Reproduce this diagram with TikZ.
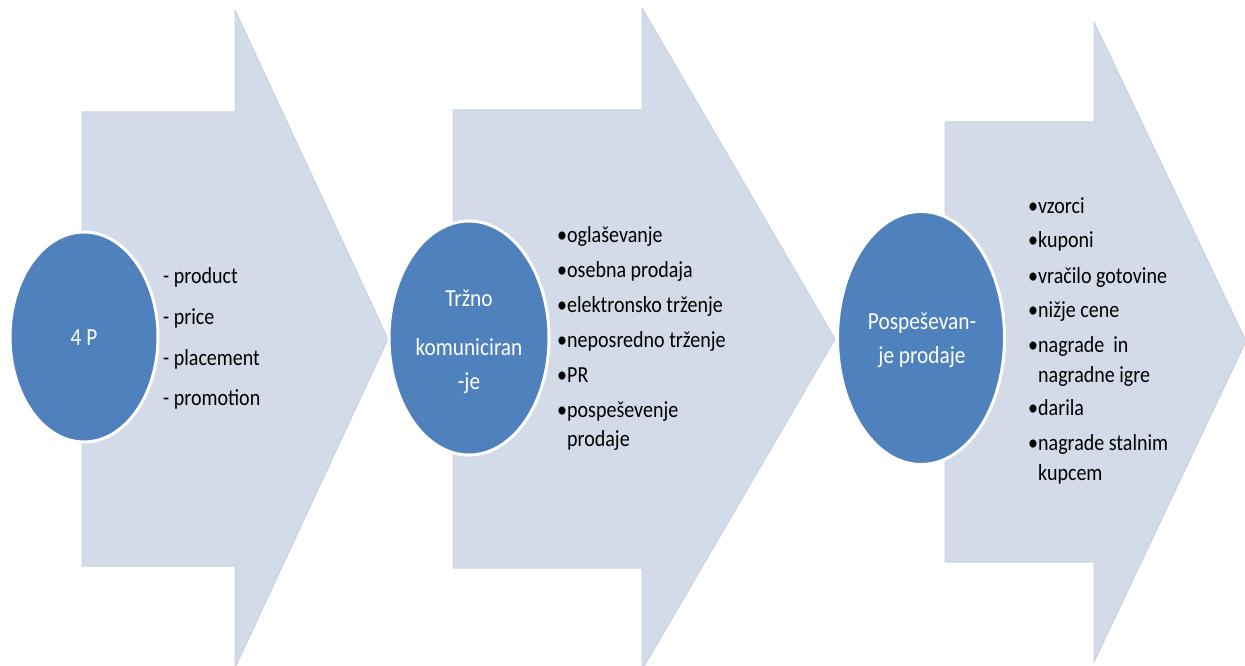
\documentclass[tikz,border=0pt]{standalone}
\usepackage{fontspec}
\setmainfont[FakeStretch=0.87]{Carlito}
\usetikzlibrary{shapes.geometric}
\definecolor{arrowfill}{RGB}{211,219,232}
\definecolor{arrowline}{RGB}{202,210,226}
\definecolor{circfill}{RGB}{79,129,189}
\tikzset{
  bigarrow/.style={fill=arrowfill, draw=arrowline, line width=1pt, line join=round},
  bubble/.style={ellipse, fill=circfill, draw=white, line width=3pt, inner sep=0pt},
  ln/.style={anchor=west, inner sep=0pt, text height=16pt, text depth=5pt, font=\fontsize{23}{28}\selectfont, text=black},
  ct/.style={anchor=center, inner sep=0pt, text height=17pt, text depth=5pt, font=\fontsize{24.5}{29}\selectfont, text=white}
}
\begin{document}
\begin{tikzpicture}[x=1pt,y=-1pt]
\useasboundingbox (0,0) rectangle (1245,666);
\clip (0,0) rectangle (1245,666);
% arrows
\draw[bigarrow] (82,112) -- (235,112) -- (235,10) -- (388,339) -- (235,668) -- (235,566) -- (82,566) -- cycle;
\node[bubble, minimum width=148pt, minimum height=210pt] (e1) at (84,337) {};
\node[ct] (t1) at (84,339) {4 P};
\node[ln] (a1) at (163,278) {- product};
\node[ln] (a2) at (163,319) {- price};
\node[ln] (a3) at (163,360) {- placement};
\node[ln] (a4) at (163,400) {- promotion};

\draw[bigarrow] (453,110) -- (642,110) -- (642,8) -- (835,339) -- (642,670) -- (642,568) -- (453,568) -- cycle;
\node[bubble, minimum width=160pt, minimum height=234pt] (e2) at (469,338) {};
\node[ct] (t2a) at (469,300) {Tržno};
\node[ct] (t2b) at (469,349) {komuniciran};
\node[ct] (t2c) at (469,383) {-je};
\node[ln] (b1) at (557,237) {•oglaševanje};
\node[ln] (b2) at (557,272) {•osebna prodaja};
\node[ln] (b3) at (557,307) {•elektronsko trženje};
\node[ln] (b4) at (557,342) {•neposredno trženje};
\node[ln] (b5) at (557,377) {•PR};
\node[ln] (b6) at (557,412) {•pospeševenje};
\node[ln] (b7) at (557,441) {\phantom{•}prodaje};

\draw[bigarrow] (945,122) -- (1094,122) -- (1094,22) -- (1246,341) -- (1094,662) -- (1094,562) -- (945,562) -- cycle;
\node[bubble, minimum width=167pt, minimum height=253pt] (e3) at (921,338) {};
\node[ct] (t3a) at (922,323) {Pospeševan-};
\node[ct] (t3b) at (922,357) {je prodaje};
\node[ln] (c1) at (1028,208) {•vzorci};
\node[ln] (c2) at (1028,242) {•kuponi};
\node[ln] (c3) at (1028,278) {•vračilo gotovine};
\node[ln] (c4) at (1028,312) {•nižje cene};
\node[ln] (c5) at (1028,347) {•nagrade\ \ in};
\node[ln] (c6) at (1028,377) {\phantom{•}nagradne igre};
\node[ln] (c7) at (1028,410) {•darila};
\node[ln] (c8) at (1028,445) {•nagrade stalnim};
\node[ln] (c9) at (1028,475) {\phantom{•}kupcem};
\end{tikzpicture}
\end{document}
